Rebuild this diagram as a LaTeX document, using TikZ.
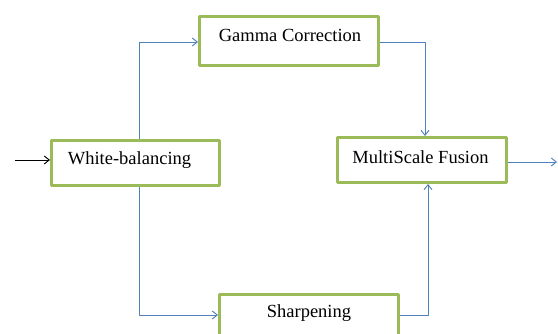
\documentclass[tikz,border=0pt]{standalone}
\usepackage{fontspec}
\setmainfont{Liberation Serif}
\usetikzlibrary{arrows.meta}
\definecolor{boxgreen}{HTML}{9BBB59}
\definecolor{flowblue}{HTML}{4F81BD}
\tikzset{
  stage/.style = {draw=boxgreen, line width=3pt, fill=white, inner sep=0pt},
  caption/.style = {font=\fontsize{18.5}{20}\selectfont, inner sep=0pt},
  flow/.style = {draw=flowblue, line width=0.9pt, -{Straight Barb[length=5pt,width=8pt]}},
}
\begin{document}
\begin{tikzpicture}[x=1pt, y=-1pt, line join = round]
\useasboundingbox (0,0) rectangle (558,334);
\node[stage, minimum width=168, minimum height=45] (wb) at (135.5,163) {};
\node[stage, minimum width=179, minimum height=49] (gc) at (289,41) {};
\node[stage, minimum width=169, minimum height=45] (msf) at (422,160) {};
\node[stage, minimum width=179, minimum height=49] (sh) at (309,319) {};

\node[caption] (wb-t) at (129.5,160) {White-balancing};
\node[caption] (gc-t) at (290,35) {Gamma Correction};
\node[caption] (msf-t) at (420.5,157) {MultiScale Fusion};
\node[caption] (sh-t) at (309,313) {Sharpening};

\coordinate (in) at (15,160);
\coordinate (out) at (557,162);

\draw[line width=0.9pt, -{Straight Barb[length=5pt,width=8pt]}] (in) -- (in -| wb.west);
\draw[flow] ([xshift=3.5pt]wb.north) |- ([yshift=-1pt]gc.west);
\draw[flow] ([yshift=-1pt]gc.east) -| ([xshift=3pt]msf.north);
\draw[flow] ([xshift=3.5pt]wb.south) |- ([yshift=4pt]sh.west);
\draw[flow] ([yshift=4pt]sh.east) -| ([xshift=6pt]msf.south);
\draw[flow] (out -| msf.east) -- (out);
\end{tikzpicture}
\end{document}
